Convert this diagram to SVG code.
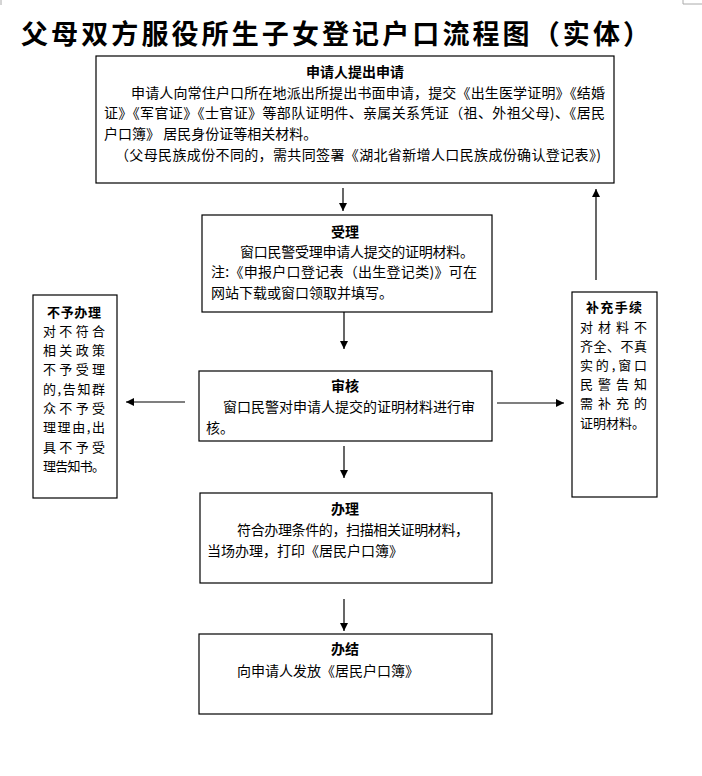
<svg xmlns="http://www.w3.org/2000/svg" width="702" height="776" viewBox="0 0 702 776">
<style>
.bg{fill:#fff}
.box{fill:#fff;stroke:#000;stroke-width:1.2}
.t{font-family:"Noto Sans CJK SC","Liberation Sans",sans-serif;font-size:14px;fill:#000}
.s{font-family:"Noto Sans CJK SC","Liberation Sans",sans-serif;font-size:13px;fill:#000}
.b{font-weight:bold}
.title{font-family:"Noto Sans CJK SC","Liberation Serif",serif;font-size:27px;font-weight:bold;fill:#000}
.c{stroke:#000;stroke-width:1.2;fill:none;marker-end:url(#ah)}
.mark{stroke:#aaa;stroke-width:1;fill:none}
</style>
<defs>
<marker id="ah" markerUnits="userSpaceOnUse" markerWidth="9" markerHeight="9" refX="8" refY="4" orient="auto">
<path d="M0,0 L8,4 L0,8 z" fill="#000"/>
</marker>
</defs>
<rect class="bg" x="0" y="0" width="702" height="776"/>
<path class="mark" d="M1,0 V5"/>
<path class="mark" d="M683,0 V4 H702"/>
<text class="title" x="21" y="44" textLength="629" lengthAdjust="spacing">父母双方服役所生子女登记户口流程图（实体）</text>

<g id="n1">
<rect class="box" x="96" y="56" width="518" height="127"/>
<text class="t b" x="355" y="77" text-anchor="middle">申请人提出申请</text>
<text class="t" x="131" y="98" textLength="474" lengthAdjust="spacing">申请人向常住户口所在地派出所提出书面申请，提交《出生医学证明》《结婚</text>
<text class="t" x="104" y="118" textLength="501" lengthAdjust="spacing">证》《军官证》《士官证》等部队证明件、亲属关系凭证（祖、外祖父母)、《居民</text>
<text class="t" x="104" y="139">户口簿》 居民身份证等相关材料。</text>
<text class="t" x="115" y="160" textLength="486" lengthAdjust="spacing">（父母民族成份不同的，需共同签署《湖北省新增人口民族成份确认登记表》)</text>
</g>

<g id="n2">
<rect class="box" x="202" y="215" width="290" height="97"/>
<text class="t b" x="345" y="237" text-anchor="middle">受理</text>
<text class="t" x="240" y="257" textLength="234" lengthAdjust="spacing">窗口民警受理申请人提交的证明材料。</text>
<text class="t" x="211" y="277" textLength="266" lengthAdjust="spacing">注:《申报户口登记表（出生登记类)》可在</text>
<text class="t" x="211" y="298">网站下载或窗口领取并填写。</text>
</g>

<g id="n3">
<rect class="box" x="199" y="371" width="293" height="70"/>
<text class="t b" x="345" y="391" text-anchor="middle">审核</text>
<text class="t" x="223" y="412" textLength="252" lengthAdjust="spacing">窗口民警对申请人提交的证明材料进行审</text>
<text class="t" x="206" y="433">核。</text>
</g>

<g id="n4">
<rect class="box" x="200" y="493" width="292" height="90"/>
<text class="t b" x="345" y="514" text-anchor="middle">办理</text>
<text class="t" x="237" y="535" textLength="232" lengthAdjust="spacing">符合办理条件的，扫描相关证明材料，</text>
<text class="t" x="207" y="556">当场办理，打印《居民户口簿》</text>
</g>

<g id="n5">
<rect class="box" x="199" y="634" width="293" height="80"/>
<text class="t b" x="345" y="654" text-anchor="middle">办结</text>
<text class="t" x="237" y="676">向申请人发放《居民户口簿》</text>
</g>

<g id="n6">
<rect class="box" x="33" y="295" width="84" height="203"/>
<text class="s b" x="47" y="317" textLength="54" lengthAdjust="spacing">不予办理</text>
<text class="s" x="43" y="336" textLength="62" lengthAdjust="spacing">对不符合</text>
<text class="s" x="43" y="355" textLength="62" lengthAdjust="spacing">相关政策</text>
<text class="s" x="43" y="374" textLength="62" lengthAdjust="spacing">不予受理</text>
<text class="s" x="43" y="394" textLength="62" lengthAdjust="spacing">的,告知群</text>
<text class="s" x="43" y="413" textLength="62" lengthAdjust="spacing">众不予受</text>
<text class="s" x="43" y="432" textLength="62" lengthAdjust="spacing">理理由,出</text>
<text class="s" x="43" y="452" textLength="62" lengthAdjust="spacing">具不予受</text>
<text class="s" x="43" y="471" textLength="62" lengthAdjust="spacing">理告知书。</text>
</g>

<g id="n7">
<rect class="box" x="572" y="292" width="85" height="205"/>
<text class="s b" x="586" y="312" textLength="56" lengthAdjust="spacing">补充手续</text>
<text class="s" x="580" y="332" textLength="67" lengthAdjust="spacing">对材料不</text>
<text class="s" x="580" y="351" textLength="67" lengthAdjust="spacing">齐全、不真</text>
<text class="s" x="580" y="370" textLength="67" lengthAdjust="spacing">实的,窗口</text>
<text class="s" x="580" y="389" textLength="67" lengthAdjust="spacing">民警告知</text>
<text class="s" x="580" y="408" textLength="67" lengthAdjust="spacing">需补充的</text>
<text class="s" x="580" y="428" textLength="65" lengthAdjust="spacing">证明材料。</text>
</g>

<g id="connectors">
<line class="c" x1="343" y1="188" x2="343" y2="211"/>
<line class="c" x1="344" y1="312" x2="344" y2="349"/>
<line class="c" x1="185" y1="402" x2="126" y2="402"/>
<line class="c" x1="497" y1="403" x2="564" y2="403"/>
<line class="c" x1="596" y1="280" x2="596" y2="189"/>
<line class="c" x1="344" y1="446" x2="344" y2="478"/>
<line class="c" x1="344" y1="599" x2="344" y2="631"/>
</g>
</svg>
